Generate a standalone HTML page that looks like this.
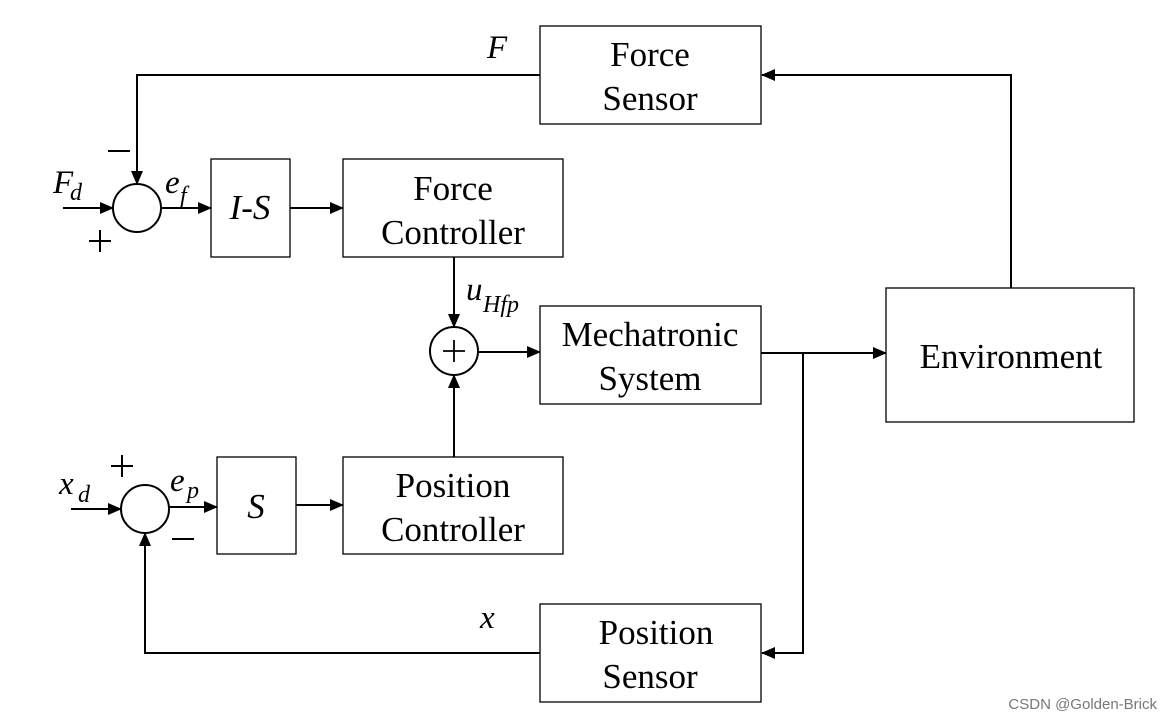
<!DOCTYPE html>
<html><head><style>
html,body{margin:0;padding:0;background:#fff;}
svg text{font-family:"Liberation Serif",serif;fill:#000;}
</style></head><body>
<svg width="1172" height="720" viewBox="0 0 1172 720" xmlns="http://www.w3.org/2000/svg">
<defs><marker id="a" markerWidth="14" markerHeight="12" refX="13" refY="6" orient="auto" markerUnits="userSpaceOnUse"><path d="M0,0 L14,6 L0,12 z" fill="#000"/></marker></defs>
<g fill="none" stroke="#000" stroke-width="1.3">
<rect x="540" y="26" width="221" height="98"/>
<rect x="211" y="159" width="79" height="98"/>
<rect x="343" y="159" width="220" height="98"/>
<rect x="540" y="306" width="221" height="98"/>
<rect x="886" y="288" width="248" height="134"/>
<rect x="217" y="457" width="79" height="97"/>
<rect x="343" y="457" width="220" height="97"/>
<rect x="540" y="604" width="221" height="98"/>
</g>
<g fill="none" stroke="#000" stroke-width="2">
<circle cx="137" cy="208" r="24"/>
<circle cx="145" cy="509" r="24"/>
<circle cx="454" cy="351" r="24"/>
<path d="M540,75 H137 V184" marker-end="url(#a)"/>
<path d="M1011,288 V75 H762" marker-end="url(#a)"/>
<path d="M63,208 H113" marker-end="url(#a)"/>
<path d="M161,208 H211" marker-end="url(#a)"/>
<path d="M290,208 H343" marker-end="url(#a)"/>
<path d="M454,257 V327" marker-end="url(#a)"/>
<path d="M454,457 V375" marker-end="url(#a)"/>
<path d="M478,352 H540" marker-end="url(#a)"/>
<path d="M761,353 H886" marker-end="url(#a)"/>
<path d="M803,353 V653 H762" marker-end="url(#a)"/>
<path d="M540,653 H145 V533" marker-end="url(#a)"/>
<path d="M71,509 H121" marker-end="url(#a)"/>
<path d="M169,507 H217" marker-end="url(#a)"/>
<path d="M296,505 H343" marker-end="url(#a)"/>
<path d="M443,351 H465 M454,340 V362" stroke-width="1.8"/>
<path d="M108,151 H130 M89,241 H111 M100,230 V252 M172,539 H194 M111,466 H133 M122,455 V477" stroke-width="2"/>
</g>
<g font-size="35" text-anchor="middle">
<text x="650" y="66">Force</text><text x="650" y="110">Sensor</text>
<text x="453" y="200">Force</text><text x="453" y="244">Controller</text>
<text x="650" y="346">Mechatronic</text><text x="650" y="390">System</text>
<text x="1011" y="368">Environment</text>
<text x="453" y="497">Position</text><text x="453" y="541">Controller</text>
<text x="656" y="644">Position</text><text x="650" y="688">Sensor</text>
<text x="250" y="219" font-style="italic">I-S</text>
<text x="256" y="518" font-style="italic">S</text>
</g>
<g font-size="33" font-style="italic">
<text x="487" y="58">F</text>
<text x="53" y="193">F</text><text x="70" y="200" font-size="24">d</text>
<text x="165" y="193">e</text><text x="180" y="203" font-size="24">f</text>
<text x="466" y="300">u</text><text x="483" y="312" font-size="24">Hfp</text>
<text x="59" y="494">x</text><text x="78" y="502" font-size="24">d</text>
<text x="170" y="491">e</text><text x="187" y="498" font-size="24">p</text>
<text x="480" y="628">x</text>
</g>
<text x="1157" y="709" font-size="15" text-anchor="end" style="font-family:'Liberation Sans',sans-serif;fill:#777">CSDN @Golden-Brick</text>
</svg>
</body></html>
